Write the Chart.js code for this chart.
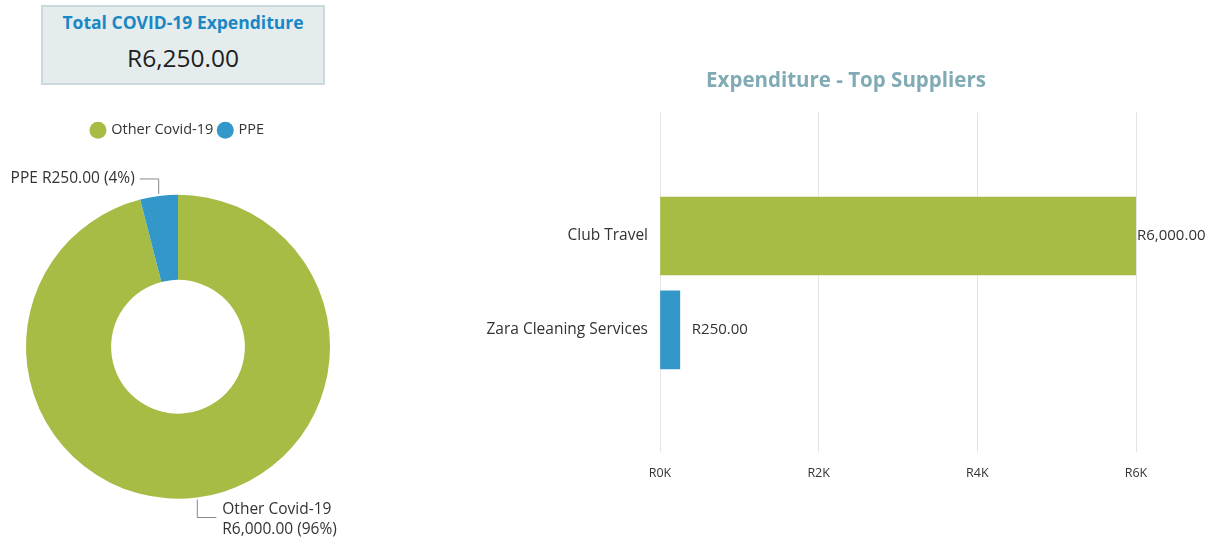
<!DOCTYPE html>
<html>
<head>
<meta charset="utf-8">
<script src="https://cdn.jsdelivr.net/npm/chart.js@4.4.0/dist/chart.umd.min.js"></script>
<style>
  body { margin: 0; width: 1215px; height: 541px; background: #fff; font-family: "Open Sans", sans-serif; position: relative; overflow: hidden; }
  #kpi { position: absolute; left: 41px; top: 5px; width: 280px; height: 76px; background: #e4ecee; border: 2px solid #cbd8dc; text-align: center; }
  #kpi .t { position: absolute; left: 0; right: 0; top: 3px; font-size: 17.5px; font-weight: 700; color: #1a87c5; }
  #kpi .v { position: absolute; left: 0; right: 0; top: 34px; font-size: 24.5px; color: #1e1e1e; }
  #donutBox { position: absolute; left: 0; top: 117px; width: 356px; height: 435px; }
  #barBox { position: absolute; left: 477px; top: 50px; width: 738px; height: 449px; }
</style>
</head>
<body>
<div id="kpi"><div class="t">Total COVID-19 Expenditure</div><div class="v">R6,250.00</div></div>
<div id="donutBox"><canvas id="donut"></canvas></div>
<div id="barBox"><canvas id="bars"></canvas></div>
<script>
const typeLabels = ['Other Covid-19', 'PPE'];
const typeValues = [6000, 250];
const typeColors = ['#a6bc45', '#3497c9'];

const suppliers = ['Club Travel', 'Zara Cleaning Services'];
const supplierValues = [6000, 250];
const supplierColors = ['#a6bc45', '#3497c9'];
const xTicks = [0, 2000, 4000, 6000];

const FONT = '"Open Sans", sans-serif';
Chart.defaults.font.family = FONT;
Chart.defaults.color = '#333';

function money(v) {
  return 'R' + v.toLocaleString('en-US', { minimumFractionDigits: 2, maximumFractionDigits: 2 });
}

// leader lines + labels for the doughnut
const donutLabels = {
  id: 'donutLabels',
  afterDraw(chart) {
    const ctx = chart.ctx;
    const meta = chart.getDatasetMeta(0);
    const total = typeValues.reduce((a, b) => a + b, 0);
    ctx.save();
    ctx.font = '15.5px ' + FONT;
    ctx.fillStyle = '#333';
    ctx.strokeStyle = '#888';
    ctx.lineWidth = 1;
    meta.data.forEach((arc, i) => {
      const mid = (arc.startAngle + arc.endAngle) / 2;
      const r = arc.outerRadius + 2;
      const px = arc.x + Math.cos(mid) * r;
      const py = arc.y + Math.sin(mid) * r;
      const pct = Math.round(typeValues[i] / total * 100) + '%';
      ctx.beginPath();
      if (py < arc.y) {
        const ey = py - 15;
        ctx.moveTo(px, py); ctx.lineTo(px, ey); ctx.lineTo(px - 19, ey);
        ctx.stroke();
        ctx.textAlign = 'right'; ctx.textBaseline = 'middle';
        ctx.fillText(typeLabels[i] + ' ' + money(typeValues[i]) + ' (' + pct + ')', px - 24, ey);
      } else {
        const ey = py + 18;
        ctx.moveTo(px, py); ctx.lineTo(px, ey); ctx.lineTo(px + 19, ey);
        ctx.stroke();
        ctx.textAlign = 'left'; ctx.textBaseline = 'middle';
        ctx.fillText(typeLabels[i], px + 25, ey - 8);
        ctx.fillText(money(typeValues[i]) + ' (' + pct + ')', px + 25, ey + 12);
      }
    });
    ctx.restore();
  }
};

new Chart(document.getElementById('donut'), {
  type: 'doughnut',
  data: {
    labels: typeLabels,
    datasets: [{ data: typeValues, backgroundColor: typeColors, borderWidth: 0 }]
  },
  options: {
    responsive: true,
    maintainAspectRatio: false,
    animation: false,
    cutout: '44%',
    layout: { padding: { left: 26, right: 26, top: 0, bottom: 6 } },
    plugins: {
      legend: {
        position: 'top',
        labels: { usePointStyle: true, pointStyle: 'circle', boxWidth: 12, boxHeight: 12, padding: 6, font: { size: 14.5 }, color: '#333' }
      },
      tooltip: { enabled: false }
    }
  },
  plugins: [donutLabels]
});

// value labels at the end of each bar
const barValues = {
  id: 'barValues',
  afterDatasetsDraw(chart) {
    const ctx = chart.ctx;
    const meta = chart.getDatasetMeta(0);
    ctx.save();
    ctx.font = '15px ' + FONT;
    ctx.fillStyle = '#333';
    ctx.textBaseline = 'middle';
    meta.data.forEach((bar, i) => {
      const off = bar.x > chart.chartArea.right - 5 ? 1 : 12;
      ctx.fillText(money(supplierValues[i]), bar.x + off, bar.y);
    });
    ctx.restore();
  }
};

new Chart(document.getElementById('bars'), {
  type: 'bar',
  data: {
    datasets: [{
      data: supplierValues.map((v, i) => ({ x: v, y: i })),
      backgroundColor: supplierColors,
      barThickness: 78
    }]
  },
  options: {
    indexAxis: 'y',
    responsive: true,
    maintainAspectRatio: false,
    animation: false,
    layout: { padding: { left: 0, right: 0, bottom: 4 } },
    plugins: {
      legend: { display: false },
      tooltip: { enabled: false },
      title: {
        display: true,
        text: 'Expenditure - Top Suppliers',
        color: '#80aab4',
        font: { size: 20.5, weight: 'bold' },
        padding: { top: 19, bottom: 18.5 }
      }
    },
    scales: {
      x: {
        type: 'linear',
        min: 0, max: 6000,
        afterBuildTicks: s => { s.ticks = xTicks.map(v => ({ value: v })); },
        ticks: { callback: v => 'R' + (v / 1000) + 'K', padding: 14, font: { size: 12.5 }, color: '#333' },
        grid: { color: '#e4e4e4', drawTicks: false },
        border: { display: false }
      },
      y: {
        type: 'linear',
        reverse: true,
        offset: false,
        min: -1.32, max: 2.30,
        afterBuildTicks: s => { s.ticks = suppliers.map((c, i) => ({ value: i })); },
        afterFit: s => { s.width = 183; },
        ticks: { callback: v => suppliers[v], padding: 12, font: { size: 15.5 }, color: '#333' },
        grid: { display: false, drawTicks: false },
        border: { display: false }
      },
      // empty right-hand gutter that leaves room for the value labels
      yGutter: {
        type: 'linear',
        position: 'right',
        afterFit: s => { s.width = 79; },
        ticks: { display: false },
        grid: { display: false, drawTicks: false },
        border: { display: false }
      }
    }
  },
  plugins: [barValues]
});
</script>
</body>
</html>
